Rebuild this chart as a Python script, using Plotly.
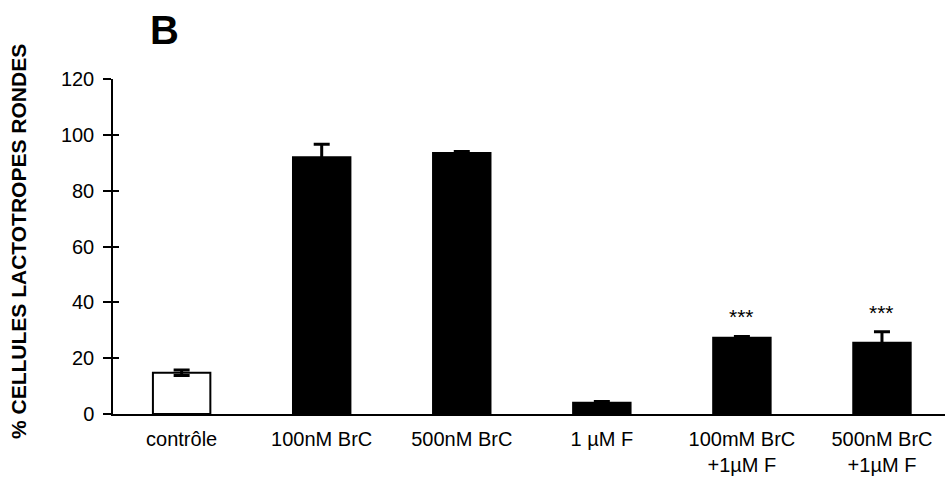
import plotly.graph_objects as go

categories = ["contrôle", "100nM BrC", "500nM BrC", "1 µM F", "100mM BrC<br>+1µM F", "500nM BrC<br>+1µM F"]
values = [14.8, 92.0, 93.5, 4.0, 27.3, 25.5]
errors = [1.0, 4.6, 0.5, 0.5, 0.5, 4.0]
fill_colors = ["white", "black", "black", "black", "black", "black"]
significance = ["", "", "", "", "***", "***"]
y_ticks = [0, 20, 40, 60, 80, 100, 120]

FONT = "Liberation Sans, Arial, sans-serif"

fig = go.Figure()
fig.add_trace(go.Bar(
    x=categories, y=values,
    marker=dict(color=fill_colors, line=dict(color="black", width=2)),
    width=0.41,
    error_y=dict(type="data", array=errors, visible=True, color="black", thickness=3, width=8),
    showlegend=False,
))
# invisible trace on second axis to draw inner half of ticks
fig.add_trace(go.Scatter(x=categories, y=values, yaxis="y2", mode="markers",
                         marker=dict(opacity=0), showlegend=False, hoverinfo="skip"))

for c, v, e, s in zip(categories, values, errors, significance):
    if s:
        fig.add_annotation(x=c, y=v + e, text=s, showarrow=False, yanchor="bottom",
                           yshift=6, font=dict(family=FONT, size=21, color="black"))

fig.add_annotation(text="<b>% CELLULES LACTOTROPES RONDES</b>", textangle=-90,
                   xref="paper", yref="paper", x=-(113 - 18) / 832, y=(414 - 242) / 335,
                   xanchor="center", yanchor="middle", showarrow=False,
                   font=dict(family=FONT, size=21, color="black"))

fig.update_layout(
    width=948, height=477,
    margin=dict(l=113, r=3, t=79, b=63),
    plot_bgcolor="white", paper_bgcolor="white",
    title=dict(text="<b>B</b>", x=150/948, xanchor="left", xref="container",
               y=1 - 16/477, yanchor="top", yref="container",
               font=dict(family=FONT, size=40, color="black")),
    xaxis=dict(range=[-0.49, 5.45], showline=True, linecolor="black", linewidth=1.5,
               ticks="", tickfont=dict(family=FONT, size=20, color="black"),
               ticklabelstandoff=6,
               showgrid=False, zeroline=False, automargin=False),
    yaxis=dict(range=[0, 120], tickvals=y_ticks, showline=True, linecolor="black",
               linewidth=1.5, ticks="outside", ticklen=8, tickwidth=1.5, tickcolor="black",
               tickfont=dict(family=FONT, size=20, color="black"), showgrid=False,
               ticklabelstandoff=5,
               zeroline=False, automargin=False),
    yaxis2=dict(range=[0, 120], tickvals=y_ticks, overlaying="y", side="left",
                ticks="inside", ticklen=6, tickwidth=1.5, tickcolor="black",
                showticklabels=False, showgrid=False, zeroline=False, showline=False,
                automargin=False),
)

fig.write_html("out.html", config={"displayModeBar": False},
               post_script="document.body.style.margin='0';")
